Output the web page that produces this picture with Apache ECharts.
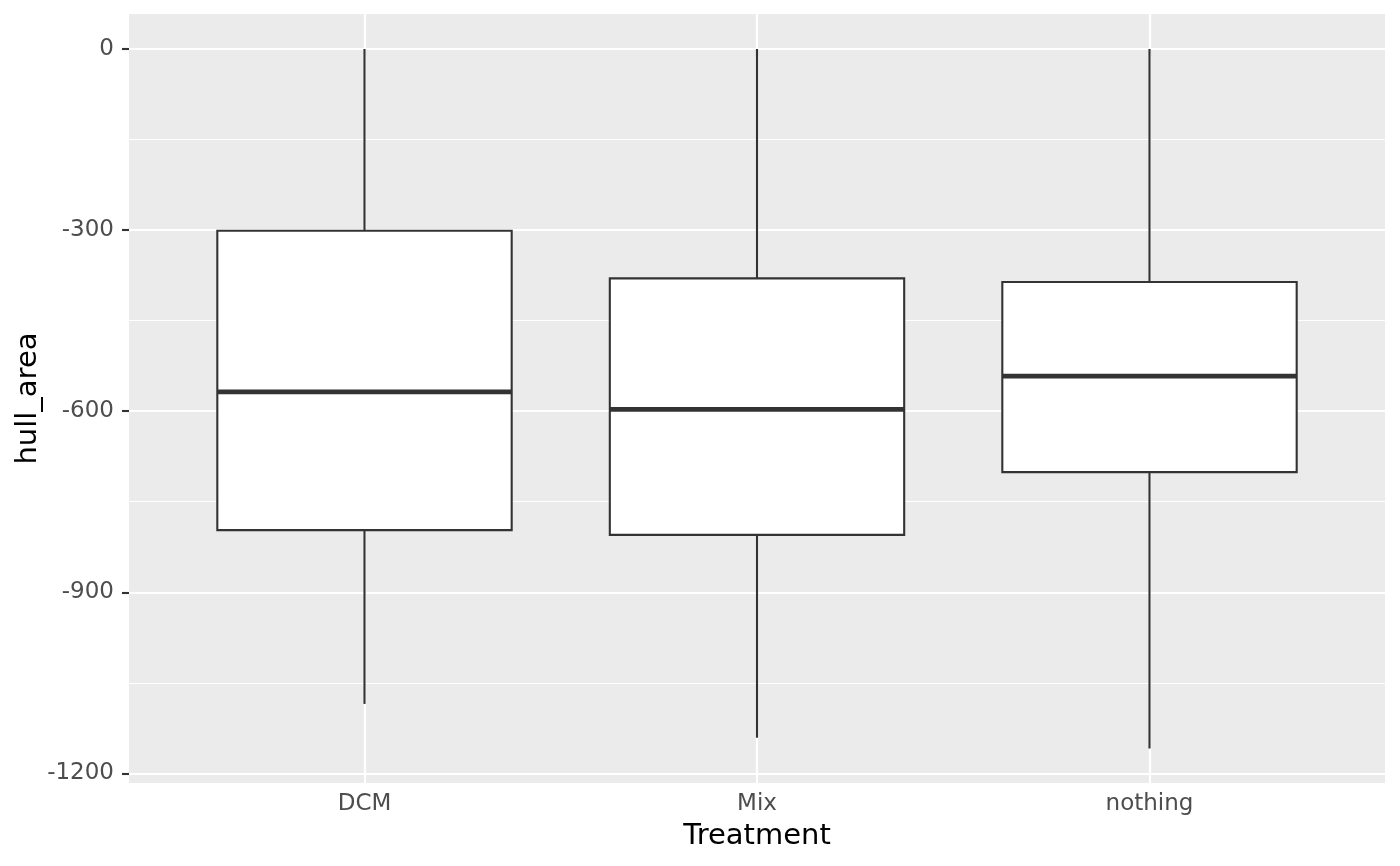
<!DOCTYPE html>
<html>
<head>
<meta charset="utf-8">
<script src="https://cdn.jsdelivr.net/npm/echarts@6/dist/echarts.min.js"></script>
<style>
html,body{margin:0;padding:0;background:#fff;}
#chart{width:1400px;height:866px;}
</style>
</head>
<body>
<div id="chart"></div>
<script>
const categories = ['DCM', 'Mix', 'nothing'];
const whiskerLow = [-1085, -1141, -1159];
const q1 = [-797, -805, -701];
const median = [-568, -597, -542];
const q3 = [-301, -380, -386];
const whiskerHigh = [0, 0, 0];
const yMajorTicks = [0, -300, -600, -900, -1200];
const yMinorTicks = [-150, -450, -750, -1050];
const categoryPositions = categories.map((c, i) => i + 1);

const boxData = categories.map((c, i) => [categoryPositions[i], whiskerLow[i], q1[i], median[i], q3[i], whiskerHigh[i]]);

const gridLineData = []
  .concat(yMinorTicks.map(v => ({ yAxis: v, lineStyle: { color: '#ffffff', width: 1.1, type: 'solid' } })))
  .concat(yMajorTicks.map(v => ({ yAxis: v, lineStyle: { color: '#ffffff', width: 2.2, type: 'solid' } })))
  .concat(categoryPositions.map(v => ({ xAxis: v, lineStyle: { color: '#ffffff', width: 2.2, type: 'solid' } })));

function renderItem(params, api) {
  const x = api.value(0);
  const pLow = api.coord([x, api.value(1)]);
  const pQ1 = api.coord([x, api.value(2)]);
  const pMed = api.coord([x, api.value(3)]);
  const pQ3 = api.coord([x, api.value(4)]);
  const pHigh = api.coord([x, api.value(5)]);
  const halfW = api.size([0.75, 0])[0] / 2;
  const stroke = '#333333';
  return {
    type: 'group',
    children: [
      { type: 'line', shape: { x1: pQ3[0], y1: pQ3[1], x2: pHigh[0], y2: pHigh[1] }, style: { stroke: stroke, lineWidth: 2.1 } },
      { type: 'line', shape: { x1: pQ1[0], y1: pQ1[1], x2: pLow[0], y2: pLow[1] }, style: { stroke: stroke, lineWidth: 2.1 } },
      { type: 'rect', shape: { x: pQ3[0] - halfW, y: pQ3[1], width: halfW * 2, height: pQ1[1] - pQ3[1] }, style: { fill: '#ffffff', stroke: stroke, lineWidth: 2.1 } },
      { type: 'line', shape: { x1: pMed[0] - halfW, y1: pMed[1], x2: pMed[0] + halfW, y2: pMed[1] }, style: { stroke: stroke, lineWidth: 4.6 } }
    ]
  };
}

const chart = echarts.init(document.getElementById('chart'), null, { renderer: 'canvas' });
chart.setOption({
  animation: false,
  backgroundColor: '#ffffff',
  grid: { left: 129, right: 15, top: 14, bottom: 83, show: true, backgroundColor: '#EBEBEB', borderWidth: 0 },
  xAxis: {
    type: 'value', min: 0.4, max: 3.6,
    name: 'Treatment', nameLocation: 'middle', nameGap: 39, nameMoveOverlap: false,
    nameTextStyle: { fontFamily: 'DejaVu Sans', fontSize: 29, color: '#000000' },
    axisLine: { show: false },
    axisTick: { show: true, length: 7, lineStyle: { color: '#333333', width: 2.1 }, customValues: categoryPositions },
    axisLabel: { show: true, margin: 10, fontFamily: 'DejaVu Sans', fontSize: 23, color: '#4D4D4D', customValues: categoryPositions,
      formatter: v => categories[Math.round(v) - 1] },
    splitLine: { show: false }
  },
  yAxis: {
    type: 'value', min: -1216, max: 58,
    name: 'hull_area', nameLocation: 'middle', nameGap: 86, nameRotate: 90, nameMoveOverlap: false,
    nameTextStyle: { fontFamily: 'DejaVu Sans', fontSize: 29, color: '#000000' },
    axisLine: { show: false },
    axisTick: { show: true, length: 7, lineStyle: { color: '#333333', width: 2.1 }, customValues: yMajorTicks },
    axisLabel: { show: true, margin: 15, fontFamily: 'DejaVu Sans', fontSize: 23, color: '#4D4D4D', customValues: yMajorTicks,
      formatter: v => String(v) },
    splitLine: { show: false }
  },
  series: [
    {
      type: 'line', data: [], z: 1, silent: true,
      markLine: { z: 1, silent: true, symbol: ['none', 'none'], label: { show: false }, animation: false, data: gridLineData }
    },
    {
      type: 'custom', z: 10, renderItem: renderItem, data: boxData,
      encode: { x: 0, y: [1, 2, 3, 4, 5] }
    }
  ]
});
</script>
</body>
</html>
